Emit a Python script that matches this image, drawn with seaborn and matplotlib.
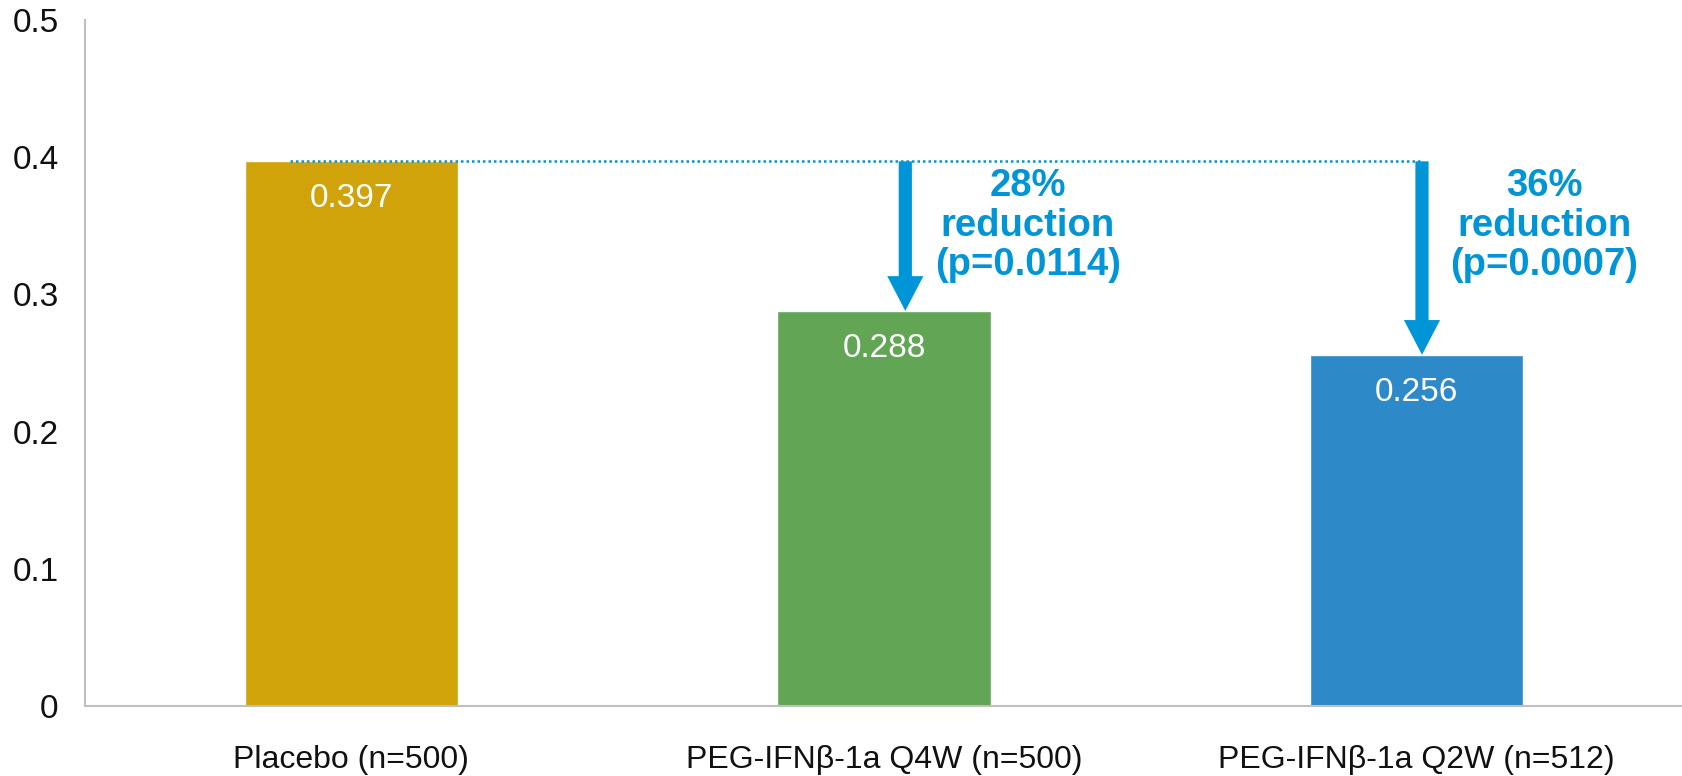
import matplotlib.pyplot as plt
import seaborn as sns
import pandas as pd

# chart values
groups = ['Placebo (n=500)', 'PEG-IFNβ-1a Q4W (n=500)', 'PEG-IFNβ-1a Q2W (n=512)']
rates = [0.397, 0.288, 0.256]
bar_colors = ['#D1A30A', '#62A554', '#2E89C8']
reductions = ['28%\nreduction\n(p=0.0114)', '36%\nreduction\n(p=0.0007)']

sns.set_style('white')
plt.rcParams['font.family'] = ['Liberation Sans', 'DejaVu Sans']

df = pd.DataFrame({'group': groups, 'rate': rates})

fig = plt.figure(figsize=(16.83, 7.76), dpi=100)
ax = fig.add_axes([0.0505, 0.0902, 0.9495, 0.884])

sns.barplot(data=df, x='group', y='rate', hue='group', palette=bar_colors,
            width=0.4, saturation=1, legend=False, ax=ax)

ax.set_xlim(-0.5, 2.5)
ax.set_ylim(0, 0.5)
ax.set_yticks([0, 0.1, 0.2, 0.3, 0.4, 0.5])
ax.set_yticklabels(['0', '0.1', '0.2', '0.3', '0.4', '0.5'])
ax.set_xlabel('')
ax.set_ylabel('')

for s in ['top', 'right']:
    ax.spines[s].set_visible(False)
for s in ['left', 'bottom']:
    ax.spines[s].set_color('#BFBFBF')
    ax.spines[s].set_linewidth(1.5)
ax.tick_params(axis='y', length=7, width=1.5, color='#BFBFBF', pad=12, labelsize=24, labelcolor='#111111')
ax.tick_params(axis='x', length=0, pad=28, labelsize=23, labelcolor='#111111')

# value labels inside bars
for i, v in enumerate(rates):
    ax.annotate(f'{v:.3f}', xy=(i, v), xytext=(0, -27), textcoords='offset points',
                ha='center', va='center', color='white', fontsize=24)

# reference line at placebo level and reduction arrows
blue = '#0095D6'
arrow_x = [1.04, 2.01]
ax.plot([-0.115, arrow_x[1]], [rates[0], rates[0]], linestyle=(0, (1, 1.2)), color=blue, lw=1.8, zorder=3)
for k, (x, v) in enumerate(zip(arrow_x, rates[1:])):
    ax.annotate('', xy=(x, v), xytext=(x, rates[0]),
                arrowprops=dict(facecolor=blue, edgecolor='none', width=9.5,
                                headwidth=26, headlength=25, shrink=0))
    ax.text(x + 0.23, rates[0] - 0.005, reductions[k], ha='center', va='top',
            color=blue, fontsize=27.5, fontweight='bold', linespacing=1.13)

fig.savefig('out.png', dpi=100)
